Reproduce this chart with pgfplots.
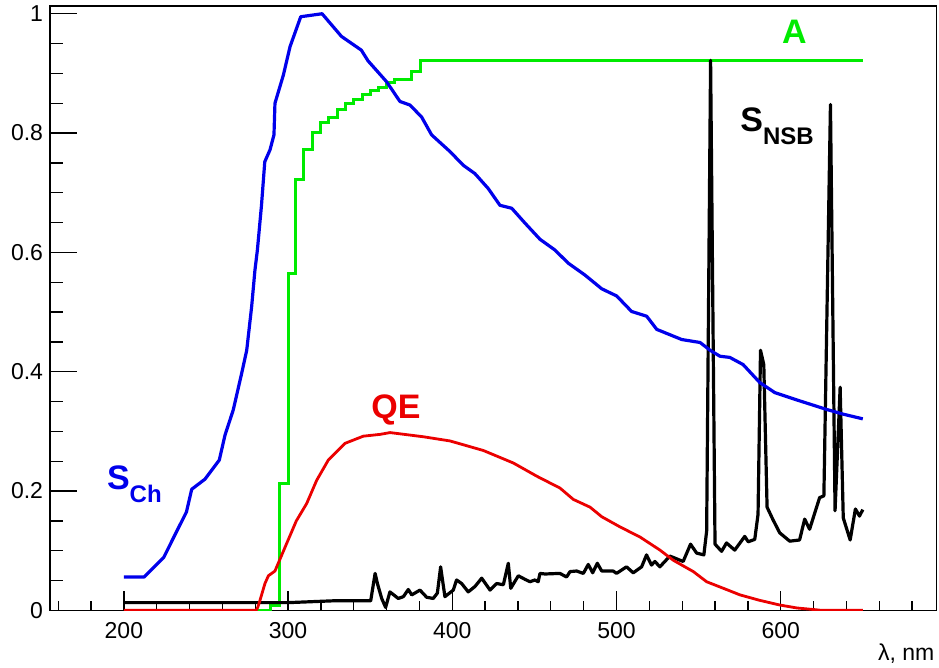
\documentclass[border=0pt]{standalone}
\usepackage{fontspec}
\setmainfont{Liberation Sans}
\usepackage{pgfplots}
\pgfplotsset{compat=1.18}
\definecolor{rblue}{RGB}{0,0,235}
\definecolor{rred}{RGB}{235,0,0}
\definecolor{rgreen}{RGB}{0,235,0}
\newcommand{\lbl}[3]{{\fontsize{17}{17}\selectfont\bfseries\color{#1}#2\raisebox{-6.5pt}{\fontsize{12}{12}\selectfont #3}}}
\begin{document}
\begin{tikzpicture}
\useasboundingbox (0,0) rectangle (469.5pt,334pt);
\begin{axis}[
  at={(25pt,28.8pt)}, anchor=south west,
  scale only axis, width=443.35pt, height=302.2pt,
  xmin=155, xmax=695, ymin=0, ymax=1.013,
  axis line style={line width=0.8pt},
  tick pos=left, tick align=inside,
  xtick={200,300,400,500,600},
  ytick={0,0.2,0.4,0.6,0.8,1},
  minor xtick={160,180,...,680},
  minor ytick={0.05,0.1,0.15,0.25,0.3,0.35,0.45,0.5,0.55,0.65,0.7,0.75,0.85,0.9,0.95},
  major tick length=13.3pt, minor tick length=6.7pt,
  xtick style={/pgfplots/major tick length=9.5pt,/pgfplots/minor tick length=4.7pt},
  every tick/.style={line width=0.65pt, black},
  /pgf/number format/assume math mode=true,
  tick label style={font=\fontsize{11.5}{13}\selectfont},
  yticklabel style={inner sep=0pt, xshift=-3.3pt},
  xticklabel style={inner sep=0pt, yshift=-5.6pt},
  xlabel={λ, nm},
  xlabel style={at={(rel axis cs:1,0)}, anchor=base east, inner sep=0pt, yshift=-25pt, xshift=-1pt, font=\fontsize{11.5}{13}\selectfont},
  clip=true,
]
% A (green)
\addplot[const plot, color=rgreen, line width=1.5pt] coordinates {
(200,0)(283,0)(289.4,0.008)(294.7,0.213)(300.1,0.565)(304.8,0.722)(309.3,0.773)(314.7,0.801)(319.8,0.817)(324.9,0.826)(330.2,0.840)(335.1,0.850)(339.7,0.857)(345.2,0.865)(349.9,0.871)(355,0.877)(360,0.884)(364.7,0.889)(370.2,0.890)(375.3,0.904)(380.8,0.921)(650,0.921)
};
% S_NSB (black)
\addplot[black, line width=1.6pt, line join=round] coordinates {
(200,0.013)(300,0.013)(327,0.016)(350.3,0.016)(353,0.062)(354.4,0.045)(357,0.020)(359.4,0.005)(362,0.031)(367.1,0.020)(370.2,0.023)(373.2,0.035)(375.3,0.026)(380.3,0.034)(384.4,0.022)(388.4,0.020)(390.9,0.029)(392.9,0.073)(395.5,0.023)(400.6,0.034)(402.6,0.051)(405.7,0.045)(409.7,0.031)(413.8,0.040)(417.9,0.054)(423,0.034)(427,0.045)(431.1,0.043)(434.1,0.079)(435.6,0.037)(440.2,0.058)(444.3,0.052)(447.3,0.048)(450.3,0.051)(452.3,0.048)(453.4,0.062)(456.4,0.061)(465.5,0.062)(469.6,0.056)(471.7,0.065)(475.7,0.066)(479.8,0.062)(482.8,0.077)(485.5,0.063)(488.3,0.079)(491,0.066)(498,0.066)(500,0.062)(506.1,0.073)(510.2,0.063)(515.3,0.073)(518.3,0.093)(521.3,0.076)(523.4,0.082)(526.4,0.073)(532.5,0.091)(540.6,0.082)(545.1,0.111)(548.8,0.096)(553.2,0.093)(554.9,0.133)(557.3,0.922)(560,0.111)(564,0.099)(567,0.113)(572,0.101)(578.1,0.124)(580.2,0.115)(584.2,0.119)(586.2,0.161)(587.7,0.436)(589.7,0.412)(591.7,0.173)(595.3,0.152)(599.4,0.130)(605.5,0.116)(611.5,0.118)(614.6,0.153)(617.6,0.136)(623.7,0.189)(626.3,0.192)(630.3,0.848)(633.1,0.167)(636.2,0.374)(638.1,0.155)(642.3,0.118)(645.5,0.170)(648,0.158)(650,0.169)
};
% QE (red)
\addplot[rred, line width=1.4pt] coordinates {
(200,0)(280.5,0)(281.5,0.005)(282.9,0.017)(285.9,0.045)(288,0.058)(292,0.066)(299.1,0.112)(305,0.150)(311.3,0.179)(317.4,0.218)(324.5,0.252)(334.7,0.280)(345.8,0.292)(356,0.295)(362.1,0.298)(382.4,0.291)(398.6,0.284)(418.9,0.268)(437.2,0.247)(451.4,0.225)(465.6,0.205)(473.7,0.186)(483.9,0.173)(491,0.157)(502.1,0.140)(514.3,0.123)(526.5,0.101)(534.6,0.084)(546.8,0.065)(554.9,0.048)(565.1,0.037)(575.2,0.026)(587,0.017)(599.4,0.009)(610,0.004)(621.7,0.001)(625,0)(650,0)
};
% S_Ch (blue)
\addplot[rblue, line width=1.6pt, line join=round] coordinates {
(200,0.056)(212.4,0.056)(224.3,0.089)(231,0.126)(238.1,0.165)(241.3,0.203)(249.4,0.220)(258.1,0.252)(261.6,0.294)(266.6,0.336)(271.7,0.397)(274.8,0.436)(277.8,0.509)(279.8,0.570)(281.3,0.604)(283.8,0.679)(285.8,0.752)(289,0.772)(291.4,0.797)(292,0.850)(297.1,0.897)(301.2,0.945)(307.7,0.995)(320.7,1.0)(332.5,0.962)(344.6,0.939)(348.7,0.921)(360,0.886)(368.1,0.853)(374.2,0.847)(381.3,0.827)(387.4,0.797)(398.6,0.769)(406.7,0.746)(413.8,0.732)(421.9,0.707)(429,0.679)(436.2,0.674)(444.3,0.649)(453.4,0.622)(462.5,0.604)(470.6,0.582)(480.8,0.562)(491,0.539)(500.1,0.527)(509.2,0.501)(518.4,0.493)(524.5,0.471)(539.7,0.454)(550.9,0.449)(557,0.436)(563,0.426)(569,0.424)(577.1,0.412)(587.2,0.382)(596.4,0.365)(609.5,0.353)(627.7,0.337)(637.9,0.329)(650,0.321)
};
\node[anchor=base west, inner sep=0pt] at (axis cs:600.6,0.950) {\lbl{rgreen}{A}{}};
\node[anchor=base west, inner sep=0pt] at (axis cs:575.2,0.802) {\lbl{black}{S}{NSB}};
\node[anchor=base west, inner sep=0pt] at (axis cs:350.5,0.322) {\lbl{rred}{QE}{}};
\node[anchor=base west, inner sep=0pt] at (axis cs:189.5,0.2018) {\lbl{rblue}{S}{Ch}};
\end{axis}
\end{tikzpicture}
\end{document}
